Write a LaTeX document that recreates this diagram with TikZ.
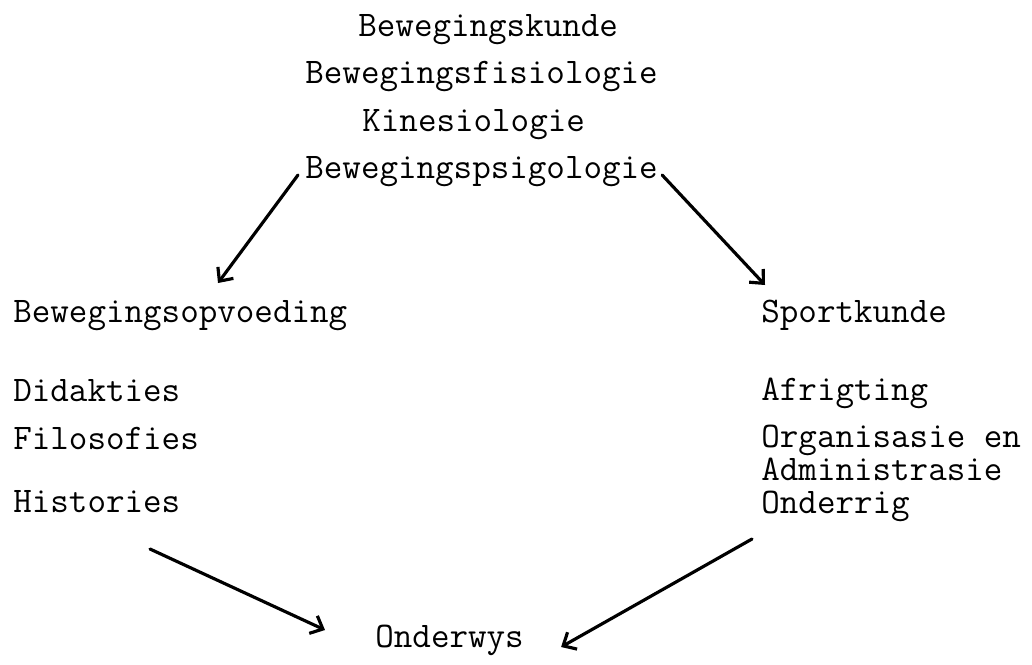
\documentclass[tikz,border=0pt]{standalone}
\usetikzlibrary{arrows.meta}
\lineskiplimit=-20pt

\begin{document}
\begin{tikzpicture}[x=0.02cm, y=-0.02cm,
    every node/.style={inner sep=0pt, anchor=base west, font=\ttfamily\fontsize{20.5}{18.7}\selectfont},
    pijl/.style={line width=1.8pt, line cap=round, -{Straight Barb[length=6pt,width=11pt]}}]

    \useasboundingbox (0,0) rectangle (1032,664);

    \node (kunde) at (358, 36) {Bewegingskunde};
    \node (fisio) at (305, 83) {Bewegingsfisiologie};
    \node (kines) at (362, 131) {Kinesiologie};
    \node (psig) at (305, 178) {Bewegingspsigologie};

    \node (opv) at (13, 322) {Bewegingsopvoeding};
    \node (did) at (13, 401) {Didakties};
    \node (fil) at (13, 449) {Filosofies};
    \node (hist) at (13, 512) {Histories};

    \node (sport) at (761, 322) {Sportkunde};
    \node (afr) at (761, 400) {Afrigting};
    \node [align=left] (org) at (761, 480) {Organisasie en\\Administrasie};
    \node (ondr) at (761, 513) {Onderrig};

    \node (ondw) at (375, 647) {Onderwys};

    \draw [pijl] ([shift={(-7,-3)}]psig.base west) to ([shift={(205,-39)}]opv.base west);
    \draw [pijl] ([shift={(4,-3)}]psig.base east) to ([shift={(4,-37)}]sport.base west);
    \draw [pijl] ([shift={(137,37)}]hist.base west) to ([shift={(-50,-17)}]ondw.base west);
    \draw [pijl] ([shift={(-9,26)}]ondr.base west) to ([shift={(37,0)}]ondw.base east);

\end{tikzpicture}
\end{document}
